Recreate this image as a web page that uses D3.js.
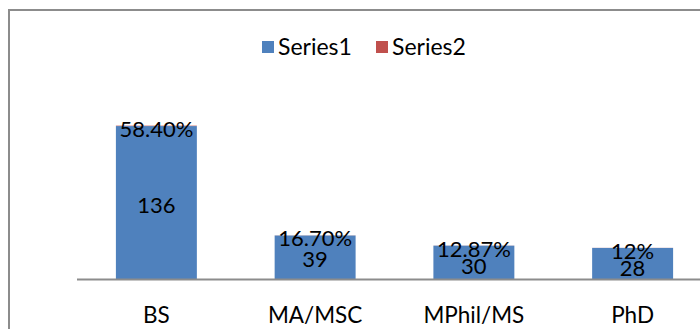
<!DOCTYPE html>
<html>
<head>
<meta charset="utf-8">
<script src="https://cdn.jsdelivr.net/npm/d3@7"></script>
<style>
  html, body { margin: 0; padding: 0; background: #fff; }
  svg { display: block; font-family: Lato, "Open Sans", sans-serif; }
</style>
</head>
<body>
<svg id="chart" width="700" height="329"></svg>
<script>
// Degree categories and the two stacked series
const categories = ["BS", "MA/MSC", "MPhil/MS", "PhD"];
const series1 = [136, 39, 30, 28];
const series2 = [0.584, 0.167, 0.1287, 0.12];
const series2Labels = ["58.40%", "16.70%", "12.87%", "12%"];
const seriesNames = ["Series1", "Series2"];
const colors = ["#4F81BD", "#C0504D"];
const yMax = 160;

const svg = d3.select("#chart");
const W = 700, H = 329;

// Outer chart frame (continues past the right and bottom edges)
svg.append("rect")
  .attr("x", 9).attr("y", 10)
  .attr("width", W + 20).attr("height", H + 20)
  .attr("fill", "#fff")
  .attr("stroke", "#8c8c8c").attr("stroke-width", 2);

const plot = { left: 77, right: 712, top: 99, bottom: 279.5 };

const x = d3.scaleBand()
  .domain(categories)
  .range([plot.left, plot.right])
  .paddingInner(0.49)
  .paddingOuter(0.245);

const y = d3.scaleLinear()
  .domain([0, yMax])
  .range([plot.bottom, plot.top]);

// Stack the series
const rows = categories.map((c, i) => ({ cat: c, s1: series1[i], s2: series2[i], lab: series2Labels[i] }));
const stack = d3.stack().keys(["s1", "s2"])(rows);

const g = svg.append("g");
stack.forEach((layer, li) => {
  g.selectAll(null)
    .data(layer)
    .join("rect")
    .attr("x", d => x(d.data.cat))
    .attr("width", x.bandwidth())
    .attr("y", d => y(d[1]))
    .attr("height", d => Math.max(0, y(d[0]) - y(d[1])))
    .attr("fill", colors[li])
    .attr("fill-opacity", li === 1 ? 0.6 : 1);
});

// Category axis
const axis = d3.axisBottom(x).tickSize(0).tickPadding(0);
const ax = svg.append("g")
  .attr("transform", `translate(0,${plot.bottom})`)
  .call(axis);
ax.select(".domain")
  .attr("d", `M${plot.left},0H${W + 5}`)
  .attr("stroke", "#8c8c8c").attr("stroke-width", 2);
ax.selectAll(".tick text")
  .attr("dy", null)
  .attr("y", 43)
  .attr("font-size", 22.5)
  .attr("font-family", "Lato, 'Open Sans', sans-serif")
  .attr("fill", "#000");

// Value labels: series1 in the middle of the bar, series2 on the thin top segment
const labels = svg.append("g")
  .attr("font-size", 22)
  .attr("fill", "#000")
  .attr("text-anchor", "middle");

labels.selectAll(".v1")
  .data(stack[0])
  .join("text")
  .attr("class", "v1")
  .attr("x", d => x(d.data.cat) + x.bandwidth() / 2)
  .attr("y", d => Math.max((y(d[0]) + y(d[1])) / 2 + 2, y(d[1]) + 20))
  .attr("dy", "0.36em")
  .text(d => d.data.s1);

labels.selectAll(".v2")
  .data(stack[1])
  .join("text")
  .attr("class", "v2")
  .attr("x", d => x(d.data.cat) + x.bandwidth() / 2)
  .attr("y", d => (y(d[0]) + y(d[1])) / 2 + 3)
  .attr("dy", "0.36em")
  .text(d => d.data.lab);

// Legend
const legend = svg.append("g").attr("font-size", 23);
const legendX = [262, 376];
seriesNames.forEach((name, i) => {
  const lg = legend.append("g").attr("transform", `translate(${legendX[i]},41)`);
  lg.append("rect").attr("width", 12).attr("height", 12).attr("fill", colors[i]);
  lg.append("text").attr("x", 16).attr("y", 6).attr("dy", "0.36em").text(name);
});
</script>
</body>
</html>
